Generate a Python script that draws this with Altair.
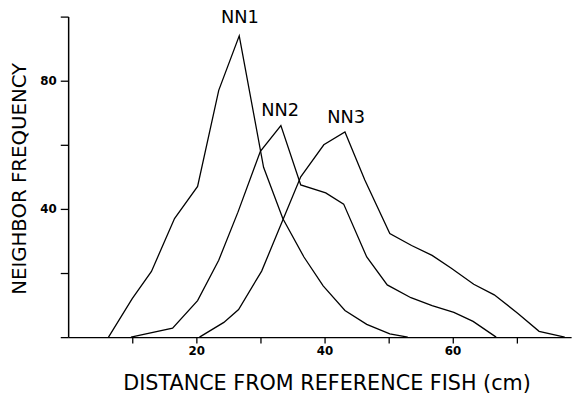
import altair as alt
import pandas as pd

# Series (distance cm, neighbor frequency)
nn1_x = [6.3, 10.0, 13.0, 16.6, 20.2, 23.5, 26.7, 30.5, 33.5, 36.8, 39.8, 43.2, 46.6, 50.2, 53.0]
nn1_y = [0, 12, 20.5, 37, 47, 77, 94, 53, 37, 25, 16, 8.3, 4, 1, 0]

nn2_x = [9.8, 16.3, 20.2, 23.5, 26.5, 30.0, 33.2, 36.3, 40.2, 43.0, 46.6, 49.8, 53.5, 56.8, 60.2, 63.2, 66.8]
nn2_y = [0, 2.8, 11.4, 24, 39, 58, 66, 47.5, 45, 41.5, 25, 16.3, 12.3, 9.8, 7.7, 4.9, 0]

nn3_x = [20.5, 24.3, 26.6, 30.2, 33.6, 36.3, 39.9, 43.2, 46.3, 50.2, 53.6, 56.8, 59.8, 63.3, 66.5, 70.2, 73.5, 77.5]
nn3_y = [0, 4.6, 8.6, 20.6, 37, 50, 60, 64, 49, 32.3, 28.6, 25.5, 21.5, 16.5, 13.2, 7.4, 1.8, 0]

label_text = ["NN1", "NN2", "NN3"]
label_x = [26.8, 33.1, 43.4]
label_y = [99.5, 70.5, 68.5]

x_ticks = [10, 20, 30, 40, 50, 60, 70]
y_ticks = [0, 20, 40, 60, 80, 100]

rows = []
for name, xs, ys in (("NN1", nn1_x, nn1_y), ("NN2", nn2_x, nn2_y), ("NN3", nn3_x, nn3_y)):
    for i, (a, b) in enumerate(zip(xs, ys)):
        rows.append({"series": name, "i": i, "dist": a, "freq": b})
df = pd.DataFrame(rows)
labels = pd.DataFrame({"text": label_text, "dist": label_x, "freq": label_y})

FONT = "DejaVu Sans"

x_enc = alt.X(
    "dist:Q",
    scale=alt.Scale(domain=[0, 78.5], nice=False, zero=True),
    axis=alt.Axis(
        title="DISTANCE FROM REFERENCE FISH (cm)",
        values=x_ticks,
        labelExpr="datum.value % 20 == 0 ? datum.label : ''",
        tickSize=6,
        labelPadding=3,
        titleX=262,
        titleY=47,
        titleBaseline="middle",
        titleAnchor="middle",
        titleFontSize=21,
    ),
)
y_enc = alt.Y(
    "freq:Q",
    scale=alt.Scale(domain=[0, 100], nice=False),
    axis=alt.Axis(
        title="NEIGHBOR FREQUENCY",
        values=y_ticks,
        labelExpr="(datum.value == 40 || datum.value == 80) ? datum.label : ''",
        tickSize=8,
        labelPadding=4,
        titleX=-49,
        titleY=164,
        titleBaseline="middle",
        titleAnchor="middle",
        titleFontSize=20,
    ),
)

lines = alt.Chart(df).mark_line(color="black", strokeWidth=1.3).encode(
    x=x_enc,
    y=y_enc,
    detail="series:N",
    order="i:Q",
)

texts = alt.Chart(labels).mark_text(
    font=FONT, fontSize=18, color="black", baseline="middle", align="center"
).encode(
    x="dist:Q",
    y="freq:Q",
    text="text:N",
)

chart = (
    alt.layer(lines, texts)
    .properties(
        width=510,
        height=325,
        autosize="none",
        padding={"left": 61, "top": 6, "right": 9, "bottom": 60},
    )
    .configure_view(stroke=None)
    .configure_axis(
        grid=False,
        domainColor="black",
        domainWidth=1.5,
        tickColor="black",
        tickWidth=1.3,
        labelColor="black",
        labelFont=FONT,
        labelFontSize=12,
        labelFontWeight="bold",
        titleColor="black",
        titleFont=FONT,
        titleFontWeight="normal",
    )
)

chart.save("out.html", embed_options={"renderer": "svg", "actions": False})
